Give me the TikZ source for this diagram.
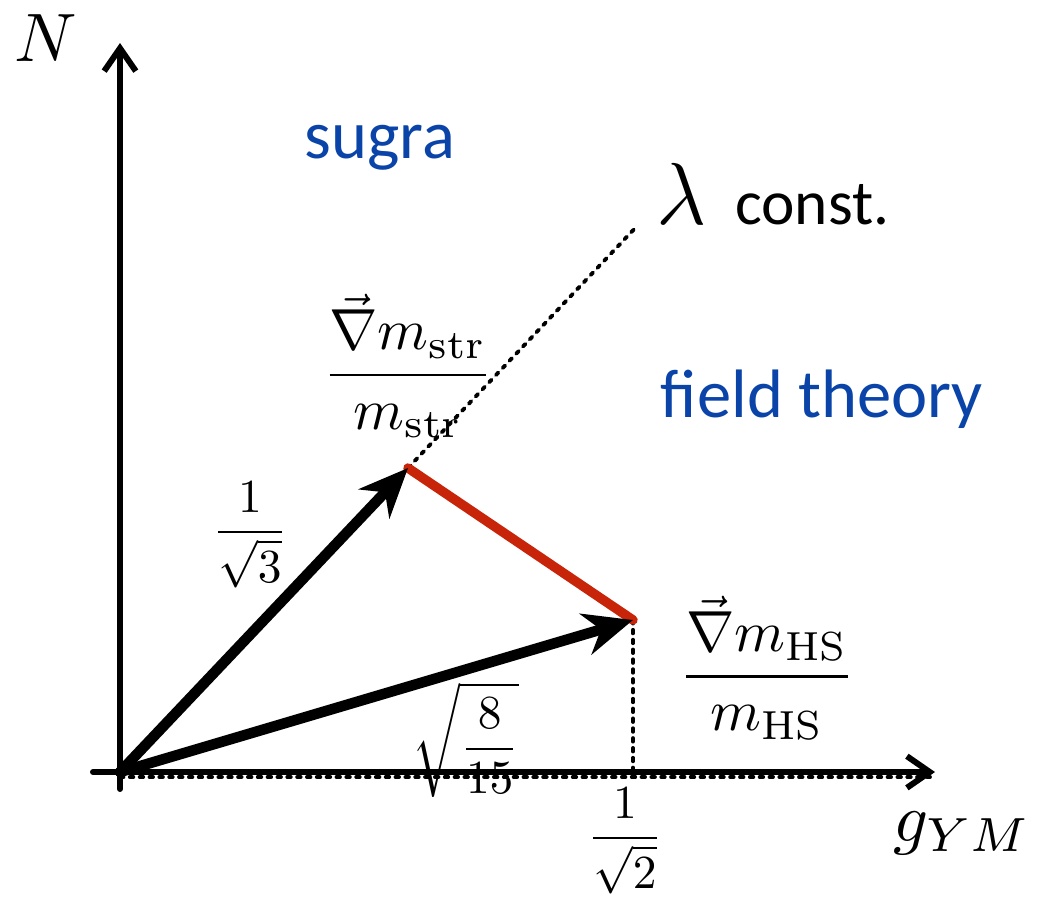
\documentclass[tikz,border=0pt]{standalone}
\usepackage{fontspec}
\newfontfamily\gillfont{Carlito}
\usetikzlibrary{arrows.meta,calc}
\usepackage{tkz-euclide}
\definecolor{RegionClr}{RGB}{10,68,168}
\definecolor{EdgeClr}{RGB}{200,36,10}

\begin{document}
\begin{tikzpicture}[
  axisline/.style={line width=1.7pt,-{Straight Barb[length=6.5pt,width=9pt]}},
  vecline/.style={line width=3pt,-{Stealth[length=14pt,width=12pt,inset=4.5pt]}},
  guide/.style={line width=1.1pt,dash pattern=on 1pt off 1.8pt},
  numlbl/.style={scale=1.35},
  gradlbl/.style={scale=1.65},
  axislbl/.style={scale=1.95},
  regionlbl/.style={text=RegionClr,font=\gillfont\fontsize{19.5}{23}\selectfont}]
\useasboundingbox (-1.20,-1.36) rectangle (9.19,7.72);
\tkzSetUpLine[line width=1.7pt,color=black]

\tkzDefPoints{0/0/O,-0.27/0/X0,8.15/0/X1,0/-0.17/Y0,0/7.29/Y1}
\tkzDefPoints{2.88/3.04/S,5.13/1.52/H,5.13/0/F,5.18/5.47/L}
\tkzDefPoints{0/-0.05/D0,8.10/-0.05/D1}

% projections and the line of constant lambda
\tkzDrawSegments[guide](S,L H,F D0,D1)
\tkzDrawSegments[axisline](X0,X1 Y0,Y1)
\tkzDrawSegment[line width=2.7pt,color=EdgeClr](S,H)
\tkzDrawSegments[vecline](O,S O,H)

\node[axislbl] (Nlbl) at (-0.74,7.34) {$N$};
\node[axislbl] (Glbl) at (8.42,-0.61) {$g_{YM}$};

\node[numlbl] (Slen) at (1.30,2.37) {$\displaystyle\frac{1}{\sqrt{3}}$};
\node[numlbl] (Hlen) at (3.46,0.32) {$\displaystyle\sqrt{\frac{8}{15}}$};
\node[numlbl] (Fx) at (5.05,-0.69) {$\displaystyle\frac{1}{\sqrt{2}}$};

\node[gradlbl] (Sgrad) at (2.88,4.06)
  {$\displaystyle\frac{\vec{\nabla} m_{\rm str}}{m_{\rm str}}$};
\node[gradlbl] (Hgrad) at (6.47,1.04)
  {$\displaystyle\frac{\vec{\nabla} m_{\rm HS}}{m_{\rm HS}}$};

\node[regionlbl] (sugra) at (2.60,6.24) {sugra};
\node[regionlbl] (ftheory) at (7.02,3.73) {field theory};
\node[regionlbl,text=black,font=\gillfont\fontsize{18}{21}\selectfont] (lam) at (6.53,5.78)
  {\scalebox{1.45}{$\lambda$}\hspace{8pt}const.};

\end{tikzpicture}
\end{document}
